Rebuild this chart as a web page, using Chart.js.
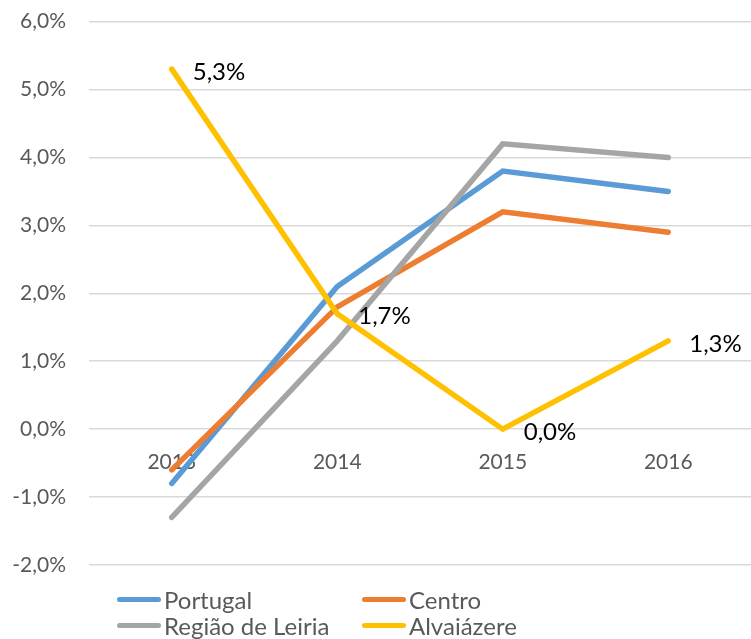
<!DOCTYPE html>
<html>
<head>
<meta charset="utf-8">
<script src="https://cdn.jsdelivr.net/npm/chart.js@4/dist/chart.umd.min.js"></script>
<style>
  html, body { margin: 0; padding: 0; background: #fff; }
  .wrap { position: relative; width: 751px; height: 639px; overflow: hidden; }
  #chart { position: absolute; left: 0; top: -14px; }
  .legend { position: absolute; left: 117px; top: 586px; width: 620px; font-family: Lato, sans-serif; font-size: 24px; color: #595959; }
  .legend-item { position: absolute; display: flex; align-items: center; white-space: nowrap; height: 26px; }
  .legend-line { display: inline-block; width: 44px; height: 5px; border-radius: 3px; margin-right: 3px; }
</style>
</head>
<body>
<div class="wrap">
  <canvas id="chart" width="751" height="639"></canvas>
  <div class="legend" id="legend"></div>
</div>
<script>
// ===== Dados =====
const years = ['2013', '2014', '2015', '2016'];
const portugal = [-0.8, 2.1, 3.8, 3.5];
const centro = [-0.6, 1.8, 3.2, 2.9];
const leiria = [-1.3, 1.3, 4.2, 4.0];
const alvaiazere = [5.3, 1.7, 0.0, 1.3];
const yTicks = [-2, -1, 0, 1, 2, 3, 4, 5, 6];

const series = [
  { name: 'Portugal', data: portugal, color: '#5B9BD5' },
  { name: 'Centro', data: centro, color: '#ED7D31' },
  { name: 'Região de Leiria', data: leiria, color: '#A5A5A5' },
  { name: 'Alvaiázere', data: alvaiazere, color: '#FFC000' },
];

const fmt = (v) => v.toFixed(1).replace('.', ',') + '%';

// ===== Legenda =====
function renderLegend() {
  const legend = document.getElementById('legend');
  const pos = [[0, 0], [245, 0], [0, 26], [245, 26]];
  legend.innerHTML = series
    .map(
      (s, i) => `
      <div class="legend-item" style="left:${pos[i][0]}px; top:${pos[i][1]}px">
        <span class="legend-line" style="background:${s.color}"></span>${s.name}
      </div>`
    )
    .join('');
}

// rótulos de dados da série Alvaiázere
const dataLabels = {
  id: 'dataLabels',
  afterDatasetsDraw(chart) {
    const ctx = chart.ctx;
    const idx = 3;
    const meta = chart.getDatasetMeta(idx);
    ctx.save();
    ctx.font = '24px Lato, sans-serif';
    ctx.fillStyle = '#000';
    ctx.textAlign = 'left';
    ctx.textBaseline = 'middle';
    meta.data.forEach((pt, i) => {
      ctx.fillText(fmt(alvaiazere[i]), pt.x + 21, pt.y + 3);
    });
    ctx.restore();
  },
};

function renderChart() {
  new Chart(document.getElementById('chart'), {
    type: 'line',
    data: {
      labels: years,
      datasets: series.map((s, i) => ({
        label: s.name,
        data: s.data,
        borderColor: s.color,
        backgroundColor: s.color,
        borderWidth: 5.5,
        borderCapStyle: 'round',
        borderJoinStyle: 'miter',
        pointRadius: 0,
        tension: 0,
        order: 4 - i,
      })),
    },
    options: {
      responsive: false,
      animation: false,
      layout: { padding: { top: 6, bottom: 60, right: 0, left: 0 } },
      scales: {
        x: {
          position: { y: 0 },
          offset: true,
          grid: { display: false },
          border: { display: false },
          ticks: { padding: 12, color: '#595959', font: { size: 21, family: 'Lato' } },
        },
        y: {
          min: -2,
          max: 6,
          afterBuildTicks: (scale) => { scale.ticks = yTicks.map((v) => ({ value: v })); },
          afterFit: (scale) => { scale.width = 89; },
          grid: { color: '#d9d9d9', lineWidth: 1.5, drawTicks: false },
          border: { display: false },
          ticks: {
            padding: 23,
            color: '#595959',
            font: { size: 21, family: 'Lato' },
            callback: (v) => fmt(v),
          },
        },
      },
      plugins: {
        legend: { display: false },
        tooltip: { enabled: false },
      },
    },
    plugins: [dataLabels],
  });
}

renderLegend();
renderChart();
</script>
</body>
</html>
